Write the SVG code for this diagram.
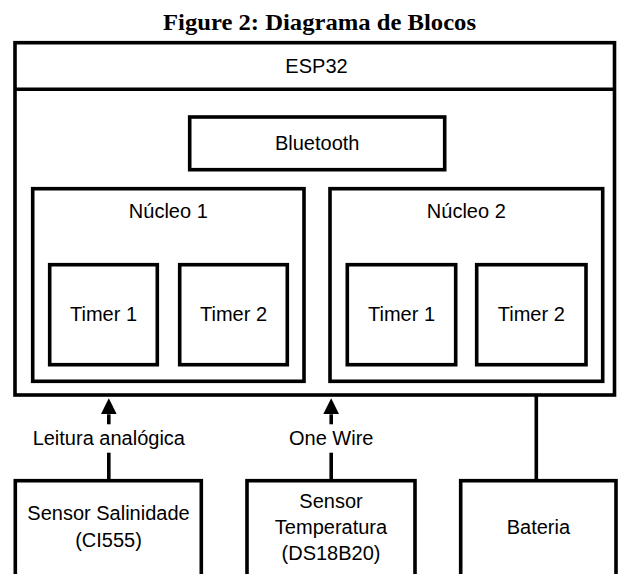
<svg xmlns="http://www.w3.org/2000/svg" width="618" height="574" viewBox="0 0 618 574">
<style>
.box{fill:#fff;stroke:#000;stroke-width:3.6}
.ln{stroke:#000;stroke-width:3.6;fill:none}
.t{font-family:"Liberation Sans",Arial,sans-serif;font-size:20px;fill:#000;text-anchor:middle}
.title{font-family:"Liberation Serif","Times New Roman",serif;font-size:23.5px;font-weight:bold;fill:#000;text-anchor:middle}
</style>
<defs>
<marker id="arr" markerUnits="userSpaceOnUse" markerWidth="16" markerHeight="16" viewBox="0 0 16 16" refX="0" refY="8" orient="auto">
<path d="M0,0 L16,8 L0,16 z" fill="#000"/>
</marker>
</defs>
<rect width="618" height="574" fill="#fff"/>
<text class="title" x="319.5" y="30" textLength="313" lengthAdjust="spacingAndGlyphs">Figure 2: Diagrama de Blocos</text>

<g id="esp32">
<rect class="box" x="15" y="42.7" width="599.5" height="352.3"/>
<line class="ln" x1="15" y1="89.3" x2="614.5" y2="89.3"/>
<text class="t" x="316.5" y="73">ESP32</text>
</g>

<g id="bluetooth">
<rect class="box" x="189.7" y="117" width="255" height="52.7"/>
<text class="t" x="317.2" y="150">Bluetooth</text>
</g>

<g id="nucleo1">
<rect class="box" x="32.7" y="188.7" width="271.3" height="192.6"/>
<text class="t" x="168.3" y="218.3">Núcleo 1</text>
</g>
<g id="n1timer1">
<rect class="box" x="49.7" y="264.7" width="107.6" height="100"/>
<text class="t" x="103.5" y="321">Timer 1</text>
</g>
<g id="n1timer2">
<rect class="box" x="179.7" y="264.7" width="107.6" height="100"/>
<text class="t" x="233.5" y="321">Timer 2</text>
</g>

<g id="nucleo2">
<rect class="box" x="330" y="188.7" width="272.7" height="192.6"/>
<text class="t" x="466.3" y="218.3">Núcleo 2</text>
</g>
<g id="n2timer1">
<rect class="box" x="347.3" y="264.7" width="108.4" height="100"/>
<text class="t" x="401.5" y="321">Timer 1</text>
</g>
<g id="n2timer2">
<rect class="box" x="476.7" y="264.7" width="109.3" height="100"/>
<text class="t" x="531.3" y="321">Timer 2</text>
</g>

<g id="salinidade">
<rect class="box" x="15.3" y="480.7" width="186" height="110"/>
<text class="t" x="108.5" y="520">Sensor Salinidade</text>
<text class="t" x="108.5" y="547">(CI555)</text>
</g>
<g id="temperatura">
<rect class="box" x="247" y="480.7" width="168" height="110"/>
<text class="t" x="331" y="508">Sensor</text>
<text class="t" x="331" y="534">Temperatura</text>
<text class="t" x="331" y="560">(DS18B20)</text>
</g>
<g id="bateria">
<rect class="box" x="460.7" y="480.7" width="155.3" height="110"/>
<text class="t" x="538.4" y="534">Bateria</text>
</g>

<g id="connectors">
<line class="ln" x1="108.8" y1="424.3" x2="108.8" y2="414.3" marker-end="url(#arr)"/>
<line class="ln" x1="108.8" y1="452.7" x2="108.8" y2="480.7"/>
<text class="t" x="108.8" y="445">Leitura analógica</text>
<line class="ln" x1="331.2" y1="424.3" x2="331.2" y2="414.3" marker-end="url(#arr)"/>
<line class="ln" x1="331.2" y1="452.7" x2="331.2" y2="480.7"/>
<text class="t" x="331.2" y="445">One Wire</text>
<line class="ln" x1="536.3" y1="395" x2="536.3" y2="480.7"/>
</g>
</svg>
